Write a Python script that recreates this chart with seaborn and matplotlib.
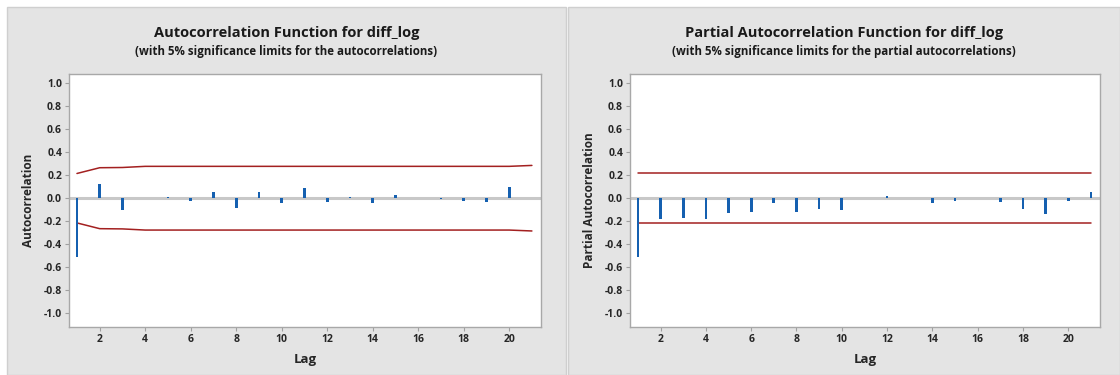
import numpy as np
import pandas as pd
import matplotlib
matplotlib.use('Agg')
import matplotlib.pyplot as plt
import seaborn as sns
from matplotlib.patches import Rectangle

lags = list(range(1, 22))
acf = [-0.51, 0.125, -0.105, 0.0, 0.01, -0.02, 0.05, -0.085, 0.05, -0.045,
       0.085, -0.035, 0.01, -0.045, 0.03, 0.0, -0.01, -0.02, -0.03, 0.10, 0.0]
acf_limit = [0.215, 0.265, 0.267, 0.277, 0.277, 0.277, 0.277, 0.277, 0.277, 0.277,
             0.277, 0.277, 0.277, 0.277, 0.277, 0.277, 0.277, 0.277, 0.277, 0.277, 0.285]
pacf = [-0.51, -0.18, -0.17, -0.18, -0.13, -0.12, -0.045, -0.12, -0.09, -0.10,
        0.0, 0.015, 0.0, -0.045, -0.02, 0.0, -0.03, -0.09, -0.14, -0.02, 0.055]
pacf_limit = [0.215] * 21

panels = [
    ('Autocorrelation Function for diff_log',
     '(with 5% significance limits for the autocorrelations)',
     'Autocorrelation', acf, acf_limit),
    ('Partial Autocorrelation Function for diff_log',
     '(with 5% significance limits for the partial autocorrelations)',
     'Partial Autocorrelation', pacf, pacf_limit),
]

sns.set_style('white')
plt.rcParams['font.family'] = ['Open Sans', 'DejaVu Sans']
plt.rcParams['text.color'] = '#1a1a1a'

W, H = 1120, 375
fig = plt.figure(figsize=(W / 100, H / 100), dpi=100)
fig.patch.set_facecolor('white')

# grey background panels (pixel coords)
boxes = [(7, 566), (568, 1120)]
plot_x = [(69, 541), (630, 1100)]
top, bottom = 74, 327

for (x0, x1), (px0, px1), (title, sub, ylab, vals, lim) in zip(boxes, plot_x, panels):
    fig.patches.append(Rectangle((x0 / W, 0), (x1 - x0) / W, (H - 7) / H,
                                 transform=fig.transFigure, facecolor='#e4e4e4',
                                 edgecolor='#cfcfcf', lw=1, zorder=-5))
    cx = (x0 + x1) / 2 / W
    fig.text(cx, 1 - 33 / H, title, ha='center', va='center', fontsize=10.5, fontweight='bold')
    fig.text(cx, 1 - 52 / H, sub, ha='center', va='center', fontsize=8.3, fontweight='bold')

    ax = fig.add_axes([px0 / W, 1 - bottom / H, (px1 - px0) / W, (bottom - top) / H])
    ax.set_facecolor('white')
    df = pd.DataFrame({'lag': lags, 'val': vals, 'up': lim, 'lo': [-v for v in lim]})
    ax.axhline(0, color='#c8c8c8', lw=2.2, zorder=1)
    sns.barplot(data=df, x='lag', y='val', native_scale=True, width=0.12,
                color='#1560b0', saturation=1, linewidth=0, ax=ax, zorder=3)
    sns.lineplot(data=df, x='lag', y='up', color='#a32020', lw=1.1, ax=ax, zorder=2)
    sns.lineplot(data=df, x='lag', y='lo', color='#a32020', lw=1.1, ax=ax, zorder=2)
    ax.set_xlim(0.65, 21.4)
    ax.set_ylim(-1.12, 1.08)
    ax.set_xticks(range(2, 21, 2))
    yt = np.round(np.arange(-1.0, 1.01, 0.2), 1)
    ax.set_yticks(yt)
    ax.set_yticklabels([f'{t + 0.0:.1f}'.replace('-0.0', '0.0') for t in yt])
    ax.tick_params(axis='both', length=3, width=0.8, color='#a0a0a0', labelsize=7.5,
                   pad=2, left=True, bottom=True)
    for lbl in ax.get_xticklabels() + ax.get_yticklabels():
        lbl.set_fontweight('bold')
    for s in ax.spines.values():
        s.set_color('#a8a8a8')
        s.set_linewidth(1)
    ax.set_xlabel('Lag', fontsize=9.5, fontweight='bold', labelpad=6)
    ax.set_ylabel(ylab, fontsize=8.5, fontweight='bold', labelpad=6)

fig.savefig('out.png', dpi=100)
